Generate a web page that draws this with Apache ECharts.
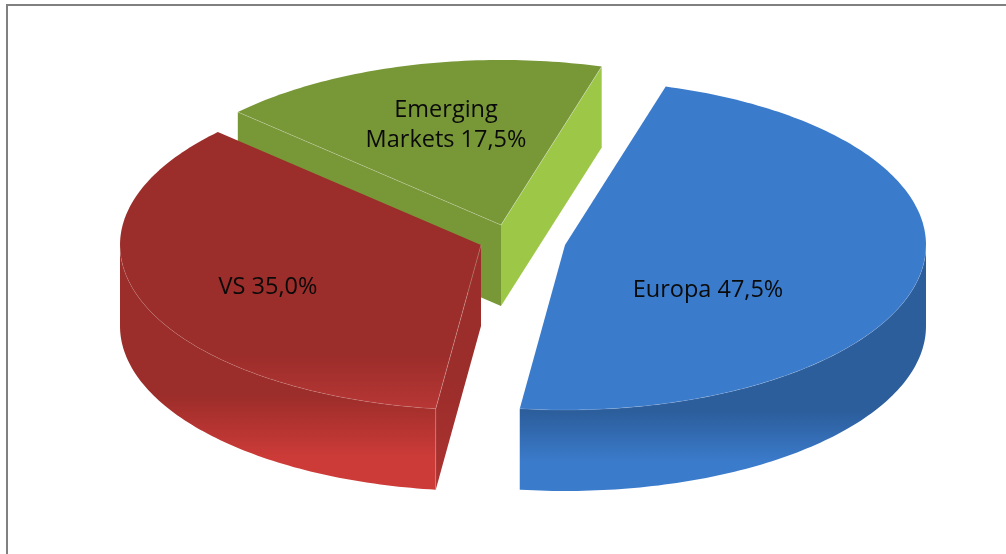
<!DOCTYPE html>
<html>
<head>
<meta charset="utf-8">
<style>html,body{margin:0;padding:0;background:#fff}#chart{width:1006px;height:554px}</style>
<script src="https://cdn.jsdelivr.net/npm/echarts@6/dist/echarts.min.js"></script>
</head>
<body>
<div id="chart"></div>
<script>
// Portfolio split by region
const regions = ['Europa', 'VS', 'Emerging\nMarkets'];
const shares = [47.5, 35.0, 17.5];

// Pie layout: ellipse of the disc, thickness and the clockwise start angle
const pie = { cx: 523, cy: 242, rx: 361, ry: 165, depth: 81, start: -73.8 };
// How far each slice is pulled out of the disc, and where its label sits
const pull = [[42, 3], [-42, 3], [-22, -17]];
const labelAt = [[143, 45], [-213, 42], [-55, -100]];
// Painting order: the back slice first, the front slice last
const stacking = [30, 20, 10];

const vertical = (y1, y2, stops) => ({
  type: 'linear', x: 0, y: y1, x2: 0, y2: y2, global: true,
  colorStops: stops.map(c => ({ offset: c[0], color: c[1] }))
});

const skins = [
  {
    top: '#3b7bcb',
    wall: vertical(412, 462, [[0, '#2c5e9c'], [1, '#3b7bcb']]),
    startCut: '#2c5e9c', endCut: '#2c5e9c'
  },
  {
    top: vertical(355, 410, [[0, '#9b2d2a'], [1, '#b83735']]),
    wall: vertical(395, 458, [[0, '#9b2d2a'], [1, '#cd3b38']]),
    startCut: vertical(380, 490, [[0, '#9b2d2a'], [1, '#ad3331']]),
    endCut: '#9b2d2a'
  },
  {
    top: '#789737',
    wall: '#789737',
    startCut: '#789737', endCut: '#9dc746'
  }
];

const total = shares.reduce((a, b) => a + b, 0);
const rad = d => d * Math.PI / 180;

function renderSlice(params, api) {
  const i = params.dataIndex;
  let from = pie.start;
  for (let k = 0; k < i; k++) from += shares[k] / total * 360;
  const to = from + api.value(0) / total * 360;
  const ox = pie.cx + pull[i][0];
  const oy = pie.cy + pull[i][1];
  const rim = t => [ox + pie.rx * Math.cos(rad(t)), oy + pie.ry * Math.sin(rad(t))];
  const drop = p => [p[0], p[1] + pie.depth];
  const z = stacking[i];
  const children = [];
  const add = (points, fill, order) => children.push({
    type: 'polygon', shape: { points: points }, z2: z + order,
    style: { fill: fill, stroke: null }
  });
  const seam = (points, alpha) => children.push({
    type: 'polyline', shape: { points: points }, z2: z + 5,
    style: { fill: null, stroke: 'rgba(255,255,255,' + alpha + ')', lineWidth: 0.6 }
  });

  // Top face outline
  const arc = [];
  for (let t = from; t < to; t += 1) arc.push(rim(t));
  arc.push(rim(to));
  const apex = [ox, oy];
  const first = arc[0];
  const last = arc[arc.length - 1];

  // Cut faces: a radial face shows only when it turns towards the viewer
  const startVisible = Math.cos(rad(from)) < 0;
  const endVisible = Math.cos(rad(to)) > 0;
  if (startVisible) add([apex, first, drop(first), drop(apex)], skins[i].startCut, 1);
  if (endVisible) add([apex, last, drop(last), drop(apex)], skins[i].endCut, 2);

  // Outer wall: only the part of the rim that faces the viewer
  if (to > 0 && from < 180) {
    const front = [];
    for (let t = Math.max(from, 0); t < Math.min(to, 180); t += 1) front.push(rim(t));
    front.push(rim(Math.min(to, 180)));
    add(front.concat(front.slice().reverse().map(drop)), skins[i].wall, 3);
    seam(front, 0.2);
    if (startVisible) seam([first, drop(first)], 0.3);
  }

  add([apex].concat(arc), skins[i].top, 4);
  if (startVisible) seam([apex, first], 0.4);
  if (endVisible) seam([apex, last], 0.6);

  children.push({
    type: 'text', z2: z + 6,
    style: {
      text: api.value(1), x: ox + labelAt[i][0], y: oy + labelAt[i][1],
      align: 'center', verticalAlign: 'middle', lineHeight: 30,
      font: '23.5px "Open Sans"', fill: '#0a0a0a'
    }
  });
  return { type: 'group', children: children };
}

const rows = shares.map((s, i) => [
  s, regions[i] + ' ' + s.toFixed(1).replace('.', ',') + '%'
]);

const chart = echarts.init(document.getElementById('chart'), null, { renderer: 'canvas' });
chart.setOption({
  animation: false,
  backgroundColor: '#ffffff',
  graphic: [{
    type: 'rect', silent: true, z: 0,
    shape: { x: 7, y: 5, width: 1020, height: 570 },
    style: { fill: null, stroke: '#808080', lineWidth: 2 }
  }],
  series: [{
    type: 'custom',
    coordinateSystem: 'none',
    silent: true,
    z: 2,
    data: rows,
    dimensions: ['share', 'label'],
    renderItem: renderSlice
  }]
});
</script>
</body>
</html>
